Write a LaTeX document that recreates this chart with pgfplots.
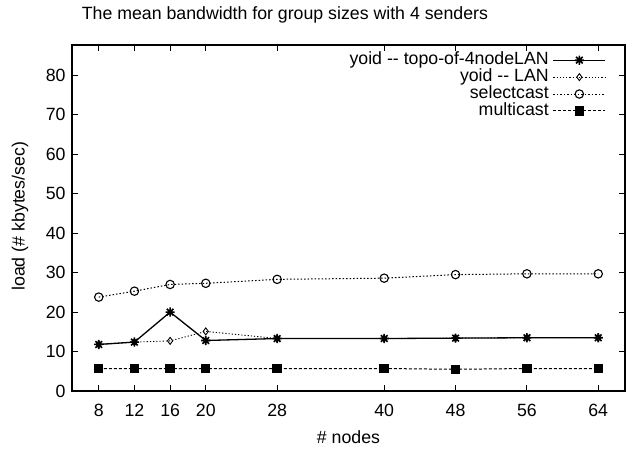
\documentclass[border=0pt]{standalone}
\usepackage{fontspec}
\setmainfont{Liberation Sans}
\usepackage{pgfplots}
\pgfplotsset{compat=1.18}

% gnuplot-style asterisk: + and x together
\pgfdeclareplotmark{gpstar}{%
  \pgfpathmoveto{\pgfpoint{-\pgfplotmarksize}{0pt}}%
  \pgfpathlineto{\pgfpoint{\pgfplotmarksize}{0pt}}%
  \pgfpathmoveto{\pgfpoint{0pt}{-\pgfplotmarksize}}%
  \pgfpathlineto{\pgfpoint{0pt}{\pgfplotmarksize}}%
  \pgfpathmoveto{\pgfpoint{-.72\pgfplotmarksize}{-.72\pgfplotmarksize}}%
  \pgfpathlineto{\pgfpoint{.72\pgfplotmarksize}{.72\pgfplotmarksize}}%
  \pgfpathmoveto{\pgfpoint{-.72\pgfplotmarksize}{.72\pgfplotmarksize}}%
  \pgfpathlineto{\pgfpoint{.72\pgfplotmarksize}{-.72\pgfplotmarksize}}%
  \pgfusepathqstroke}

\begin{document}
\begin{tikzpicture}
\begin{axis}[
    scale only axis,
    width=553bp, height=346bp,
    xmin=5, xmax=67,
    ymin=0, ymax=87.7,
    xtick={8,12,16,20,28,40,48,56,64},
    ytick={0,10,20,30,40,50,60,70,80},
    tick align=inside,
    major tick length=6bp,
    axis line style={line width=1.1bp},
    every tick/.style={line width=0.8bp, black},
    font=\fontsize{17.8}{21}\selectfont,
    /pgf/number format/assume math mode=true,
    xticklabel style={yshift=-10bp},
    yticklabel style={xshift=-3bp},
    title={The mean bandwidth for group sizes with 4 senders},
    title style={at={(axis description cs:0.385,1)}, anchor=center, yshift=24.3bp},
    xlabel={\# nodes},
    xlabel style={at={(axis description cs:0.5,0)}, anchor=center, yshift=-46bp},
    ylabel={load (\# kbytes/sec)},
    ylabel style={at={(axis description cs:0,0.505)}, anchor=center, rotate=0, yshift=52bp},
    legend cell align=right,
    legend plot pos=right,
    legend style={draw=none, fill=none, inner sep=0pt, at={(0.966,0.981)}, anchor=north east,
        nodes={text height=11.5bp, text depth=3bp, inner ysep=1.2bp, inner xsep=4bp},
        font=\fontsize{17.8}{21}\selectfont},
    legend image code/.code={\draw[mark repeat=2, mark phase=2] plot coordinates {(5bp,0bp) (31bp,0bp) (57bp,0bp)};},
]
\addplot[black, line width=1.3bp, mark=gpstar, mark size=4.6bp, mark options={solid, line width=1.6bp}]
  coordinates {(8,11.8) (12,12.4) (16,20.0) (20,12.8) (28,13.3) (40,13.3) (48,13.4) (56,13.5) (64,13.5)};
\addlegendentry{yoid -{}- topo-of-4nodeLAN}
\addplot[black, line width=0.9bp, dash pattern=on 1.2bp off 2bp, mark=diamond, mark size=3.5bp, mark options={solid, line width=0.9bp, fill=white}]
  coordinates {(8,11.8) (12,12.4) (16,12.7) (20,15.1) (28,13.3) (40,13.3) (48,13.4) (56,13.5) (64,13.5)};
\addlegendentry{yoid -{}- LAN}
\addplot[black, line width=1bp, dash pattern=on 1.5bp off 2bp, mark=o, mark size=4.2bp, mark options={solid, line width=1.1bp, fill=white}]
  coordinates {(8,23.8) (12,25.3) (16,27.0) (20,27.3) (28,28.3) (40,28.6) (48,29.5) (56,29.7) (64,29.7)};
\addlegendentry{selectcast}
\addplot[black, line width=1bp, dash pattern=on 3bp off 2bp, mark=square*, mark size=4.2bp, mark options={solid}]
  coordinates {(8,5.7) (12,5.7) (16,5.7) (20,5.7) (28,5.7) (40,5.7) (48,5.5) (56,5.7) (64,5.7)};
\addlegendentry{multicast}
\end{axis}
\path (current axis.south west) ++(-72bp,-59bp) (current axis.north east) ++(7bp,45bp);
\end{tikzpicture}
\end{document}
